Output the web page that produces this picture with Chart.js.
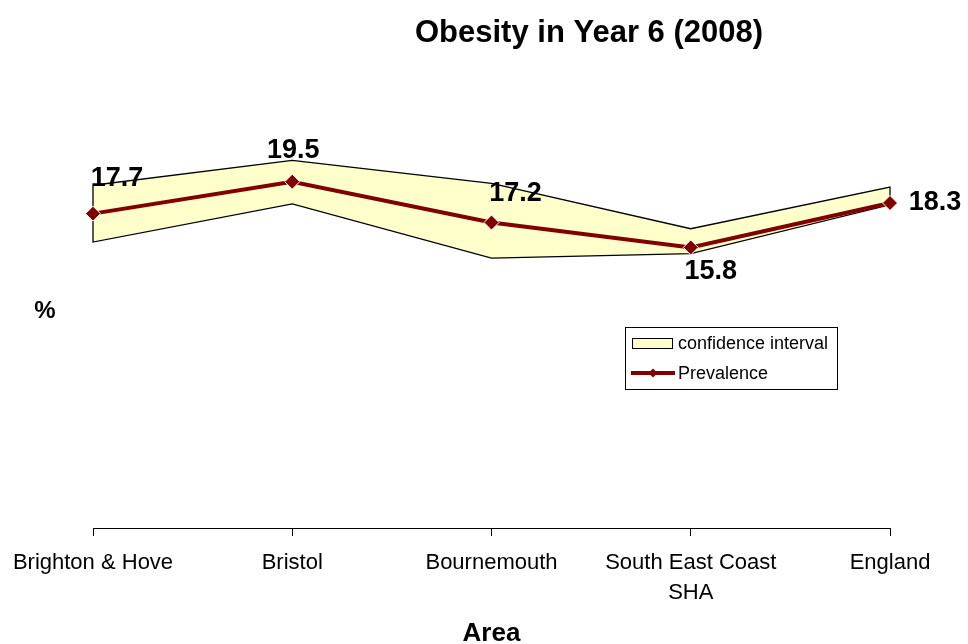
<!DOCTYPE html>
<html>
<head>
<meta charset="utf-8">
<script src="https://cdn.jsdelivr.net/npm/chart.js@4"></script>
<style>
	html, body { margin: 0; padding: 0; background: #fff; }
	#wrap { width: 968px; height: 644px; }
</style>
</head>
<body>
<div id="wrap"><canvas id="myChart"></canvas></div>
<script>
const categories = ["Brighton & Hove", "Bristol", "Bournemouth", "South East Coast\nSHA", "England"];
const prevalence = [17.7, 19.5, 17.2, 15.8, 18.3];
const ciUpper = [19.3, 20.7, 19.4, 16.85, 19.2];
const ciLower = [16.1, 18.25, 15.2, 15.45, 18.2];

// where each value label sits, relative to its point
const labelOffsets = [[24, -35], [1, -31], [24, -29], [20, 24], [45, 0]];

const FONT = "Arial, 'Liberation Sans', sans-serif";

// confidence band as one closed shape: along the top, back along the bottom
const ciShape = [];
categories.forEach((c, i) => ciShape.push({ x: c, y: ciUpper[i] }));
for (let i = categories.length - 1; i >= 0; i--) ciShape.push({ x: categories[i], y: ciLower[i] });
ciShape.push({ x: categories[0], y: ciUpper[0] });

const extras = {
	id: "extras",
	afterDatasetsDraw(chart) {
		const c = chart.ctx;
		const meta = chart.getDatasetMeta(0);
		c.save();
		c.fillStyle = "#000";
		c.font = "bold 27px " + FONT;
		c.textAlign = "center";
		c.textBaseline = "middle";
		meta.data.forEach((pt, i) => {
			c.fillText(prevalence[i].toFixed(1), pt.x + labelOffsets[i][0], pt.y + labelOffsets[i][1]);
		});
		c.restore();
	},
	afterDraw(chart) {
		const c = chart.ctx;
		c.save();
		c.fillStyle = "#000";
		c.textAlign = "center";
		c.textBaseline = "alphabetic";
		c.font = "bold 31px " + FONT;
		c.fillText("Obesity in Year 6 (2008)", 589, 42);
		c.font = "bold 24px " + FONT;
		c.textBaseline = "middle";
		c.fillText("%", 45, 311);

		// legend box
		c.lineWidth = 1;
		c.strokeStyle = "#000";
		c.fillStyle = "#fff";
		c.fillRect(625.5, 327.5, 212, 62);
		c.strokeRect(625.5, 327.5, 212, 62);
		c.fillStyle = "#FFFFCC";
		c.fillRect(632.5, 338.5, 40, 10);
		c.strokeRect(632.5, 338.5, 40, 10);
		c.strokeStyle = "#800000";
		c.lineWidth = 4;
		c.beginPath();
		c.moveTo(631, 373);
		c.lineTo(675, 373);
		c.stroke();
		c.fillStyle = "#800000";
		c.beginPath();
		c.moveTo(653, 368.5);
		c.lineTo(657.5, 373);
		c.lineTo(653, 377.5);
		c.lineTo(648.5, 373);
		c.closePath();
		c.fill();
		c.fillStyle = "#000";
		c.font = "18px " + FONT;
		c.textAlign = "left";
		c.fillText("confidence interval", 678, 344);
		c.fillText("Prevalence", 678, 374);
		c.restore();
	},
};

const ctx = document.getElementById("myChart");

let myChart = new Chart(ctx, {
	type: "line",
	data: {
		labels: categories,
		datasets: [
			{
				label: "Prevalence",
				data: prevalence,
				borderColor: "#800000",
				borderWidth: 4,
				backgroundColor: "#800000",
				pointStyle: "rectRot",
				pointRadius: 7.5,
				pointBackgroundColor: "#800000",
				pointBorderColor: "#fff",
				pointBorderWidth: 1,
				tension: 0,
				fill: false,
				clip: false,
			},
			{
				label: "confidence interval",
				data: ciShape,
				borderColor: "#000",
				borderWidth: 1.3,
				backgroundColor: "#FFFFCC",
				pointRadius: 0,
				tension: 0,
				fill: "shape",
				clip: false,
			},
		],
	},
	plugins: [extras],
	options: {
		responsive: true,
		maintainAspectRatio: false,
		animation: false,
		events: [],
		layout: {
			padding: { top: 84, left: 93, right: 78, bottom: 0 },
		},
		plugins: {
			legend: { display: false },
			tooltip: { enabled: false },
			title: { display: false },
		},
		scales: {
			x: {
				type: "category",
				offset: false,
				afterFit(scale) {
					scale.height = 116;
				},
				grid: {
					display: true,
					drawOnChartArea: false,
					drawTicks: true,
					tickLength: 8,
					color: "#000",
					tickColor: "#000",
				},
				border: { display: true, color: "#000", width: 1 },
				ticks: {
					color: "#000",
					autoSkip: false,
					maxRotation: 0,
					padding: 12,
					font: { family: FONT, size: 22, lineHeight: 1.36 },
					callback: function (value) {
						return this.getLabelForValue(value).split("\n");
					},
				},
				title: {
					display: true,
					text: "Area",
					color: "#000",
					font: { family: FONT, size: 26, weight: "bold", lineHeight: 1 },
					padding: { top: 0, bottom: -3 },
				},
			},
			y: {
				display: false,
				min: 0,
				max: 25,
			},
		},
	},
});
</script>
</body>
</html>
